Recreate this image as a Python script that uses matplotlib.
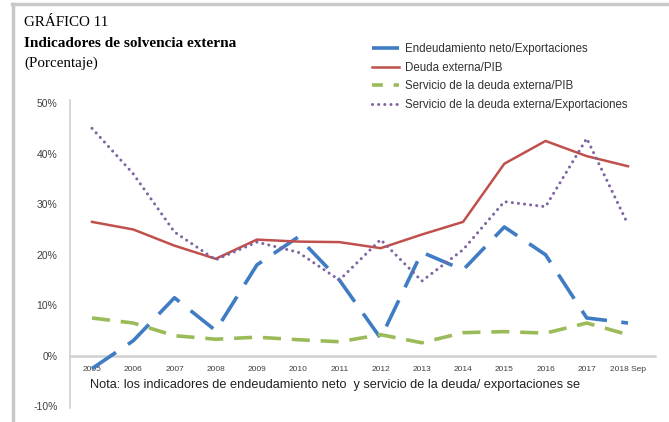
import matplotlib
matplotlib.use("Agg")
import matplotlib.pyplot as plt
from matplotlib.lines import Line2D

years = ["2005", "2006", "2007", "2008", "2009", "2010", "2011", "2012",
         "2013", "2014", "2015", "2016", "2017", "2018 Sep"]
endeud_export = [-2.5, 3.0, 11.5, 5.0, 18.0, 23.5, 15.0, 3.5, 20.5, 17.0, 25.5, 20.0, 7.5, 6.5]
deuda_pib = [26.5, 25.0, 21.8, 19.2, 23.0, 22.6, 22.5, 21.3, 24.0, 26.5, 38.0, 42.5, 39.5, 37.5]
serv_pib = [7.5, 6.5, 4.0, 3.3, 3.7, 3.2, 2.8, 4.2, 2.6, 4.6, 4.8, 4.5, 6.5, 4.2]
serv_export = [45.0, 36.0, 24.5, 19.0, 22.5, 20.5, 15.0, 23.0, 14.8, 21.0, 30.5, 29.5, 43.0, 26.0]
yticks = [-10, 0, 10, 20, 30, 40, 50]
series_names = ["Endeudamiento neto/Exportaciones", "Deuda externa/PIB",
                "Servicio de la deuda externa/PIB", "Servicio de la deuda externa/Exportaciones"]

W, H = 669, 422
fig = plt.figure(figsize=(W / 100, H / 100), dpi=100)
fig.patch.set_facecolor("white")

# frame lines (top and left) of the original box
fig.add_artist(Line2D([12 / W, 1.0], [1 - 4 / H, 1 - 4 / H], color="#c8c8c8", lw=2.5))
fig.add_artist(Line2D([13 / W, 13 / W], [0, 1 - 4 / H], color="#c8c8c8", lw=2.5))

left, right, top, bottom = 70, 655, 100, 408
ax = fig.add_axes([left / W, 1 - bottom / H, (right - left) / W, (bottom - top) / H])
x = list(range(len(years)))

blue = "#3f7cc4"
red = "#c0504d"
green = "#9bbb59"
purple = "#8064a2"

ax.plot(x, endeud_export, color=blue, lw=2.6, dashes=(8, 4), dash_capstyle="butt", zorder=3)
ax.plot(x, deuda_pib, color=red, lw=1.8, zorder=4)
ax.plot(x, serv_pib, color=green, lw=2.6, dashes=(5, 3), dash_capstyle="butt", zorder=3)
ax.plot(x, serv_export, color=purple, lw=2.2, linestyle=(0, (0.01, 2.0)),
        dash_capstyle="round", zorder=5)

ax.set_xlim(-0.534, 13.655)
ax.set_ylim(-10.3, 50.6)

for s in ["top", "right"]:
    ax.spines[s].set_visible(False)
ax.spines["left"].set_color("#d0d0d0")
ax.spines["left"].set_linewidth(1.2)
ax.spines["bottom"].set_position(("data", 0))
ax.spines["bottom"].set_color("#d0d0d0")
ax.spines["bottom"].set_linewidth(1.8)

ax.set_yticks(yticks)
ax.set_yticklabels([f"{v}%" for v in yticks], fontsize=7.5, color="#404040",
                   family="Liberation Sans")
ax.tick_params(axis="y", length=0, pad=9)
ax.set_xticks(x)
ax.set_xticklabels(years, fontsize=6, color="#404040", family="Liberation Sans")
ax.tick_params(axis="x", length=0, pad=7)
ax.set_facecolor("none")

# titles
fig.text(24 / W, 1 - 26 / H, "GRÁFICO 11", family="Liberation Serif", fontsize=10.8,
         va="baseline", ha="left")
fig.text(24 / W, 1 - 47 / H, "Indicadores de solvencia externa", family="Liberation Serif",
         fontsize=11, fontweight="bold", va="baseline", ha="left")
fig.text(24 / W, 1 - 67 / H, "(Porcentaje)", family="Liberation Serif", fontsize=10.8,
         va="baseline", ha="left")

# legend
handles = [
    Line2D([], [], color=blue, lw=2.6, dashes=(8, 4)),
    Line2D([], [], color=red, lw=1.8),
    Line2D([], [], color=green, lw=2.6, dashes=(3, 3)),
    Line2D([], [], color=purple, lw=2.2, linestyle=(0, (0.01, 2.0)), dash_capstyle="round"),
]
leg = fig.legend(handles, series_names, loc="upper left",
                 bbox_to_anchor=(372 / W, 1 - 43 / H), frameon=False,
                 prop={"family": "Liberation Sans", "size": 8.3},
                 handlelength=2.3, handletextpad=0.6, labelspacing=0.58,
                 borderaxespad=0, borderpad=0)
for t in leg.get_texts():
    t.set_color("#303030")

# note
fig.text(90 / W, 1 - 388 / H,
         "Nota: los indicadores de endeudamiento neto  y servicio de la deuda/ exportaciones se",
         family="Liberation Sans", fontsize=9.15, color="#202020", va="baseline", ha="left")

fig.savefig("out.png", dpi=100)
